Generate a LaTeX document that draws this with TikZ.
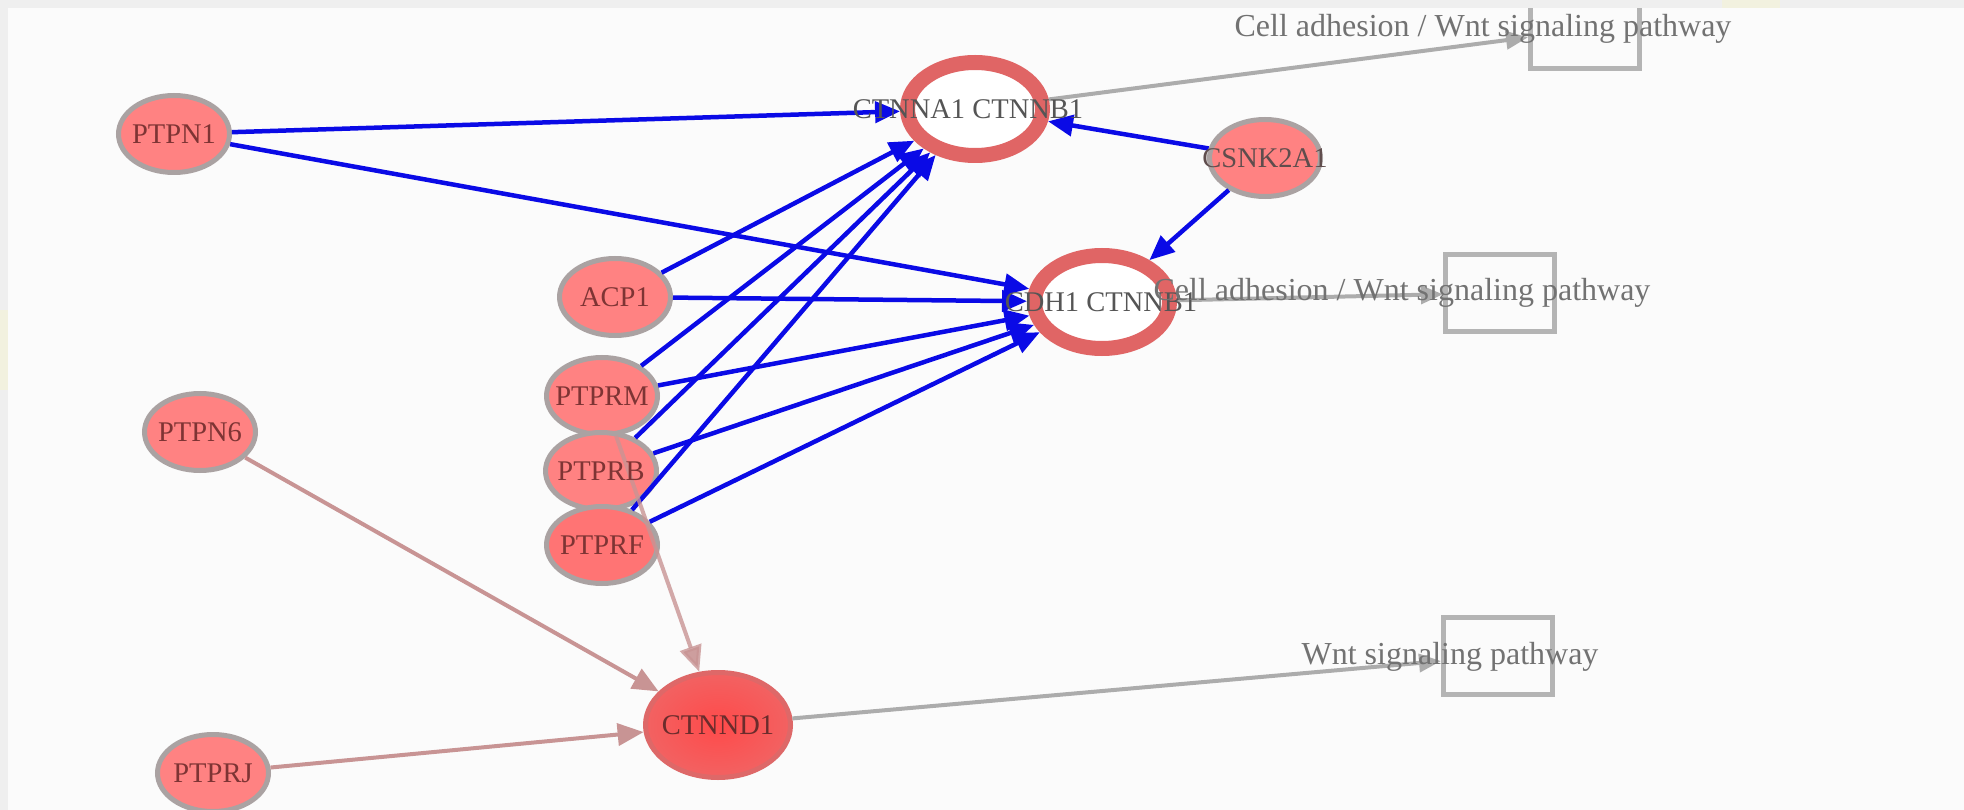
\documentclass[tikz,border=0pt]{standalone}
\usepackage{fontspec}
\setmainfont{Liberation Serif}
\usetikzlibrary{shapes.geometric,arrows.meta}

\definecolor{canvas}{HTML}{FBFBFB}
\definecolor{framegray}{HTML}{EFEFEF}
\definecolor{genepink}{HTML}{FF8282}
\definecolor{genedeep}{HTML}{FF7474}
\definecolor{nodegray}{HTML}{AAA2A2}
\definecolor{ringred}{HTML}{E06565}
\definecolor{hubcore}{HTML}{FF4A4A}
\definecolor{hubedge}{HTML}{F26262}
\definecolor{hubrim}{HTML}{DE6868}
\definecolor{actblue}{HTML}{0A0AE6}
\definecolor{modpink}{HTML}{C89494}
\definecolor{linkgray}{HTML}{ACACAC}
\definecolor{boxgray}{HTML}{B4B4B4}
\definecolor{pwtext}{HTML}{727272}
\definecolor{genetext}{HTML}{7E3434}
\definecolor{ringtext}{HTML}{555555}

\newcommand{\genefont}{\fontsize{28.5}{32}\selectfont}
\newcommand{\pwfont}{\fontsize{32}{36}\selectfont}

\tikzset{
  gene/.style={ellipse, draw=nodegray, line width=5pt, fill=genepink,
    minimum width=111pt, minimum height=77pt, inner sep=0pt, outer sep=2.5pt},
  hub/.style={ellipse, draw=hubrim, line width=5pt, inner color=hubcore,
    outer color=hubedge, minimum width=145pt, minimum height=105pt,
    inner sep=0pt, outer sep=2.5pt},
  complexring/.style={ellipse, draw=ringred, line width=15pt, fill=white,
    minimum width=135pt, minimum height=93pt, inner sep=0pt, outer sep=7.5pt},
  pathbox/.style={rectangle, draw=boxgray, line width=5pt,
    minimum width=109pt, minimum height=77pt, inner sep=0pt, outer sep=2.5pt},
  act/.style={draw=actblue, line width=4.5pt, -{Triangle[length=25pt,width=21pt]}},
  modedge/.style={draw=modpink, line width=4pt, -{Triangle[length=26pt,width=22pt]}},
  linkedge/.style={draw=linkgray, line width=4pt, -{Triangle[length=22pt,width=18pt]}},
  glabel/.style={text=genetext, font=\genefont, inner sep=0pt},
  rlabel/.style={text=ringtext, font=\genefont, inner sep=0pt},
  pwlabel/.style={text=pwtext, font=\pwfont, inner sep=0pt}
}

\begin{document}
\begin{tikzpicture}[x=1pt, y=-1pt]
\useasboundingbox (0,0) rectangle (1964,810);
\fill[canvas] (0,0) rectangle (1964,810);

% pathway boxes
\node[pathbox] (box1) at (1585,30) {};
\node[pathbox] (box2) at (1500,293) {};
\node[pathbox] (box3) at (1498,656) {};

% complexes
\node[complexring] (ctnna1) at (975,109) {};
\node[complexring] (cdh1) at (1102,302) {};

% genes
\node[gene] (ptpn1) at (174,134) {};
\node[gene] (csnk) at (1265,158) {};
\node[gene] (acp1) at (615,297) {};
\node[gene] (ptprm) at (602,396) {};
\node[gene] (ptprb) at (601,471) {};
\node[gene, fill=genedeep] (ptprf) at (602,545) {};
\node[gene] (ptpn6) at (200,432) {};
\node[gene] (ptprj) at (213,773) {};
\node[hub] (ctnnd1) at (718,725) {};

% activating interactions
\draw[act] (ptpn1) -- (ctnna1);
\draw[act] (ptpn1) -- (cdh1);
\draw[act] (acp1) -- (ctnna1);
\draw[act] (acp1) -- (cdh1);
\draw[act] (ptprm) -- (ctnna1);
\draw[act] (ptprm) -- (cdh1);
\draw[act] (ptprb) -- (ctnna1);
\draw[act] (ptprb) -- (cdh1);
\draw[act] (ptprf) -- (ctnna1);
\draw[act] (ptprf) -- (cdh1);
\draw[act] (csnk) -- (ctnna1);
\draw[act] (csnk) -- (cdh1);

% other interactions
\draw[modedge] (ptpn6) -- (ctnnd1);
\draw[modedge] (ptprj) -- (ctnnd1);
\draw[modedge, draw opacity=0.8, fill opacity=0.9] (ptprm) -- (ctnnd1);

% pathway links
\draw[linkedge] (ctnna1) -- (box1);
\draw[linkedge] (cdh1) -- (box2);
\draw[linkedge] (ctnnd1) -- (box3);

% labels
\node[glabel] at (ptpn1) {PTPN1};
\node[glabel, text=ringtext!75!genetext] at (csnk) {CSNK2A1};
\node[glabel] at (acp1) {ACP1};
\node[glabel] at (ptprm) {PTPRM};
\node[glabel] at (ptprb) {PTPRB};
\node[glabel] at (ptprf) {PTPRF};
\node[glabel] at (ptpn6) {PTPN6};
\node[glabel] at (ptprj) {PTPRJ};
\node[glabel, text=genetext!85!black] at (ctnnd1) {CTNND1};
\node[rlabel] at (968,109) {CTNNA1 CTNNB1};
\node[rlabel] at (1101,302) {CDH1 CTNNB1};

\node[pwlabel] (pw1) at (1483,29) {Cell adhesion / Wnt signaling pathway};
\node[pwlabel] (pw2) at (1402,293) {Cell adhesion / Wnt signaling pathway};
\node[pwlabel] (pw3) at (1450,657) {Wnt signaling pathway};

% outer frame strips
\fill[framegray] (0,0) rectangle (1964,8);
\fill[framegray] (0,0) rectangle (8,810);
\fill[yellow!8!framegray] (1722,0) rectangle (1780,8);
\fill[yellow!8!framegray] (0,310) rectangle (8,390);
\end{tikzpicture}
\end{document}
